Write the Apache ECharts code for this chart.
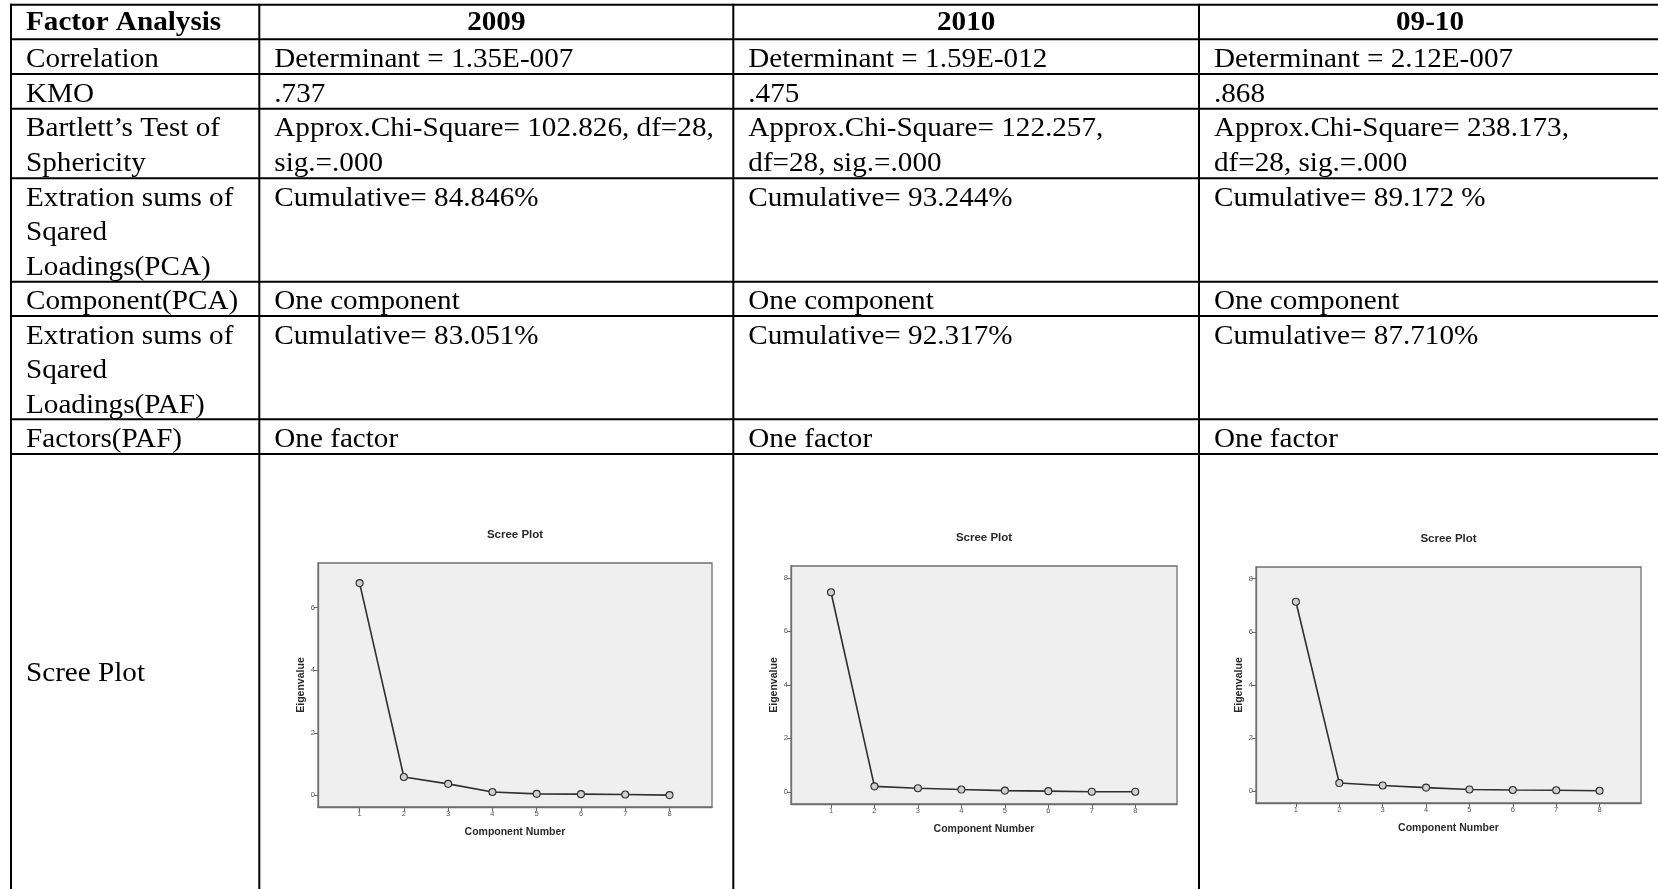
<!DOCTYPE html>
<html>
<head>
<meta charset="utf-8">
<script src="https://cdn.jsdelivr.net/npm/echarts@6/dist/echarts.min.js"></script>
<style>
  html, body { margin: 0; padding: 0; background: #fff; overflow: hidden; }
  #table, #plots { position: absolute; left: 0; top: 0; width: 1658px; height: 889px; }
  #plots { filter: blur(0.45px); pointer-events: none; }
</style>
</head>
<body>
<div id="table"></div>
<div id="plots"></div>
<script>
// ---- table content ----
const headerCells = ['Factor Analysis', '2009', '2010', '09-10'];
const rowLabels = [
  'Correlation',
  'KMO',
  'Bartlett\u2019s Test of\nSphericity',
  'Extration sums of\nSqared\nLoadings(PCA)',
  'Component(PCA)',
  'Extration sums of\nSqared\nLoadings(PAF)',
  'Factors(PAF)'
];
const col2009 = [
  'Determinant = 1.35E-007',
  '.737',
  'Approx.Chi-Square= 102.826, df=28,\nsig.=.000',
  'Cumulative= 84.846%',
  'One component',
  'Cumulative= 83.051%',
  'One factor'
];
const col2010 = [
  'Determinant = 1.59E-012',
  '.475',
  'Approx.Chi-Square= 122.257,\ndf=28, sig.=.000',
  'Cumulative= 93.244%',
  'One component',
  'Cumulative= 92.317%',
  'One factor'
];
const col0910 = [
  'Determinant = 2.12E-007',
  '.868',
  'Approx.Chi-Square= 238.173,\ndf=28, sig.=.000',
  'Cumulative= 89.172 %',
  'One component',
  'Cumulative= 87.710%',
  'One factor'
];
const plotRowLabel = 'Scree Plot';

// ---- scree plot data (eigenvalues per component) ----
const components = [1, 2, 3, 4, 5, 6, 7, 8];
const eig2009 = [6.788, 0.59, 0.37, 0.11, 0.05, 0.04, 0.03, 0.01];
const eig2010 = [7.460, 0.21, 0.14, 0.09, 0.05, 0.03, 0.01, 0.01];
const eig0910 = [7.134, 0.31, 0.22, 0.14, 0.07, 0.05, 0.04, 0.02];
const yTicks2009 = [0, 2, 4, 6];
const yTicks2010 = [0, 2, 4, 6, 8];
const yTicks0910 = [0, 2, 4, 6, 8];

// ---- table layout ----
const COLS = [11, 259.3, 733.3, 1199, 1661];
const ROWS = [4.7, 39.3, 74, 108.7, 178.3, 281.7, 316, 419.3, 454];
const BOTTOM = 900;
const FS = 27;
const SX = 1.08;
const LH = 34.5;
const SERIF = '"Liberation Serif", "Times New Roman", serif';

function txt(x, y, text, opts) {
  opts = opts || {};
  return {
    type: 'text', x: x, y: y, scaleX: SX, silent: true,
    style: {
      text: text,
      font: (opts.bold ? 'bold ' : '') + FS + 'px ' + SERIF,
      fill: '#000',
      lineHeight: LH,
      align: opts.align || 'left', textAlign: opts.align || 'left',
      verticalAlign: opts.va || 'top', textVerticalAlign: opts.va || 'top'
    }
  };
}
function seg(x1, y1, x2, y2) {
  return { type: 'line', silent: true,
    shape: { x1: x1, y1: y1, x2: x2, y2: y2 },
    style: { stroke: '#000', lineWidth: 2 } };
}

const tableEls = [];
ROWS.forEach(function (y) { tableEls.push(seg(COLS[0] - 1, y, COLS[4], y)); });
COLS.forEach(function (x) { tableEls.push(seg(x, ROWS[0] - 1, x, BOTTOM)); });

const textX = [COLS[0] + 15, COLS[1] + 15, COLS[2] + 15, COLS[3] + 15];
// header row
tableEls.push(txt(textX[0], ROWS[0] + 1.2, headerCells[0], { bold: true }));
for (let c = 1; c < 4; c++) {
  tableEls.push(txt((COLS[c] + COLS[c + 1]) / 2, ROWS[0] + 1.2, headerCells[c], { bold: true, align: 'center' }));
}
// body rows
const bodyCols = [rowLabels, col2009, col2010, col0910];
for (let r = 0; r < rowLabels.length; r++) {
  for (let c = 0; c < 4; c++) {
    tableEls.push(txt(textX[c], ROWS[r + 1] + 3.2, bodyCols[c][r]));
  }
}
tableEls.push(txt(textX[0], 674, plotRowLabel, { va: 'middle' }));

const tableChart = echarts.init(document.getElementById('table'), null, { renderer: 'canvas' });
tableChart.setOption({ animation: false, backgroundColor: '#fff', graphic: { elements: tableEls } });

// ---- scree plots ----
const SANS = '"Liberation Sans", Arial, sans-serif';
const grids = [
  { left: 318, top: 563, width: 394, height: 244 },
  { left: 791, top: 566, width: 386, height: 238 },
  { left: 1256, top: 567, width: 385, height: 236 }
];
const xRanges = [[0.06, 8.96], [0.08, 8.96], [0.08, 8.955]];
const yRanges = [[-0.37, 7.43], [-0.45, 8.44], [-0.44, 8.44]];
const yTicks = [yTicks2009, yTicks2010, yTicks0910];
const eigs = [eig2009, eig2010, eig0910];
const titleY = [535, 538, 539];

const frameColor = '#6f6f6f';
const option = {
  animation: false,
  grid: grids.map(function (g) {
    return Object.assign({ show: true, backgroundColor: '#efefef', borderColor: frameColor, borderWidth: 1.3, containLabel: false }, g);
  }),
  xAxis: grids.map(function (g, i) {
    return {
      gridIndex: i, type: 'value', min: xRanges[i][0], max: xRanges[i][1],
      axisLine: { show: true, onZero: false, lineStyle: { color: frameColor, width: 1.3 } },
      axisTick: { show: true, customValues: components, length: 4, lineStyle: { color: '#666' } },
      axisLabel: { customValues: components, fontSize: 7.5, color: '#555', margin: 3, fontFamily: SANS },
      splitLine: { show: false },
      name: 'Component Number', nameLocation: 'middle', nameGap: 20,
      nameTextStyle: { fontWeight: 'bold', fontSize: 10.5, color: '#2a2a2a', fontFamily: SANS }
    };
  }),
  yAxis: grids.map(function (g, i) {
    return {
      gridIndex: i, type: 'value', min: yRanges[i][0], max: yRanges[i][1],
      axisLine: { show: true, onZero: false, lineStyle: { color: frameColor, width: 1.3 } },
      axisTick: { show: true, customValues: yTicks[i], length: 4, lineStyle: { color: '#666' } },
      axisLabel: { customValues: yTicks[i], fontSize: 7.5, color: '#555', margin: 3, fontFamily: SANS },
      splitLine: { show: false },
      name: 'Eigenvalue', nameLocation: 'middle', nameGap: 11,
      nameTextStyle: { fontWeight: 'bold', fontSize: 10.5, color: '#2a2a2a', fontFamily: SANS }
    };
  }),
  graphic: {
    elements: grids.map(function (g, i) {
      return {
        type: 'text', x: g.left + g.width / 2, y: titleY[i], silent: true,
        style: { text: 'Scree Plot', font: 'bold 11.5px ' + SANS, fill: '#2a2a2a',
          align: 'center', textAlign: 'center', verticalAlign: 'middle', textVerticalAlign: 'middle' }
      };
    })
  },
  series: eigs.map(function (vals, i) {
    return {
      type: 'line', xAxisIndex: i, yAxisIndex: i,
      data: components.map(function (c, k) { return [c, vals[k]]; }),
      symbol: 'circle', symbolSize: 7,
      lineStyle: { color: '#2f2f2f', width: 1.6 },
      itemStyle: { color: '#cfcfcf', borderColor: '#2f2f2f', borderWidth: 1.1 }
    };
  })
};
const plotChart = echarts.init(document.getElementById('plots'), null, { renderer: 'canvas' });
plotChart.setOption(option);
</script>
</body>
</html>
